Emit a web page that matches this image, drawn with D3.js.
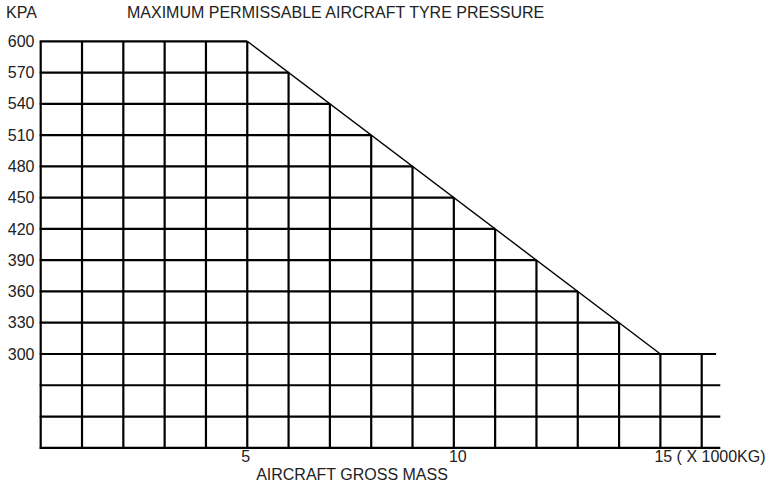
<!DOCTYPE html>
<html>
<head>
<meta charset="utf-8">
<script src="https://cdn.jsdelivr.net/npm/d3@7"></script>
<style>
  html, body { margin: 0; padding: 0; background: #fff; }
  svg { display: block; }
  text { font-family: Arial, "Liberation Sans", sans-serif; font-size: 16px; fill: #222; }
</style>
</head>
<body>
<svg id="chart" width="768" height="483"></svg>
<script>
// Limit curve: maximum tyre pressure (kPa) vs gross mass (x 1000 kg)
const limitMass = [0, 5, 15, 16.35];
const limitPressure = [600, 600, 300, 300];

// Grid columns (mass) and rows (pressure)
const massGrid = d3.range(0, 17);                 // 0 .. 16
const pressureGrid = d3.range(210, 601, 30);      // 210 .. 600
const pressureTicks = [600, 570, 540, 510, 480, 450, 420, 390, 360, 330, 300];
const massTicks = [5, 10];
const massTickLast = 15;

const svg = d3.select("#chart");
const x = d3.scaleLinear().domain([0, 16]).range([40.7, 701.7]);
const y = d3.scaleLinear().domain([210, 600]).range([447.8, 41.3]);

// pressure of the limit curve at a given mass
const limitAt = d3.scaleLinear().domain(limitMass).range(limitPressure).clamp(true);
// mass at which the limit curve falls to a pressure
const massAt = p => p >= 600 ? 5 : (p <= 300 ? 16.35 : 5 + (600 - p) / 30);

const g = svg.append("g").attr("stroke", "#000").attr("stroke-linecap", "butt");

// horizontal grid lines, each running out to the limit curve
g.selectAll("line.h").data(pressureGrid).join("line")
  .attr("class", "h")
  .attr("x1", x(0) - 1)
  .attr("x2", p => p < 300 ? x(16.45) : x(massAt(p)))
  .attr("y1", p => y(p)).attr("y2", p => y(p))
  .attr("stroke-width", 2.2);

// vertical grid lines, each starting at the limit curve
g.selectAll("line.v").data(massGrid).join("line")
  .attr("class", "v")
  .attr("x1", m => x(m)).attr("x2", m => x(m))
  .attr("y1", m => y(limitAt(m)))
  .attr("y2", y(210) + 1)
  .attr("stroke-width", 2.2);

// diagonal of the limit curve
svg.append("path")
  .datum(d3.zip(limitMass.slice(1, 3), limitPressure.slice(1, 3)))
  .attr("d", d3.line().x(d => x(d[0])).y(d => y(d[1])))
  .attr("fill", "none").attr("stroke", "#000").attr("stroke-width", 1.4);

// pressure labels
svg.selectAll("text.yt").data(pressureTicks).join("text")
  .attr("class", "yt")
  .attr("x", 34.5).attr("y", p => y(p))
  .attr("dy", "0.35em").attr("text-anchor", "end")
  .text(p => p);

// mass labels
svg.selectAll("text.xt").data(massTicks).join("text")
  .attr("class", "xt")
  .attr("x", m => x(m) + (m === 10 ? 4 : -1.5)).attr("y", 462)
  .attr("text-anchor", "middle")
  .text(m => m);
svg.append("text").attr("x", x(massTickLast) - 6).attr("y", 462)
  .text(massTickLast + " ( X 1000KG)");

svg.append("text").attr("x", 352).attr("y", 479.5).attr("text-anchor", "middle")
  .text("AIRCRAFT GROSS MASS");
svg.append("text").attr("x", 6).attr("y", 18).text("KPA");
svg.append("text").attr("x", 127).attr("y", 17.5)
  .text("MAXIMUM PERMISSABLE AIRCRAFT TYRE PRESSURE");
</script>
</body>
</html>
